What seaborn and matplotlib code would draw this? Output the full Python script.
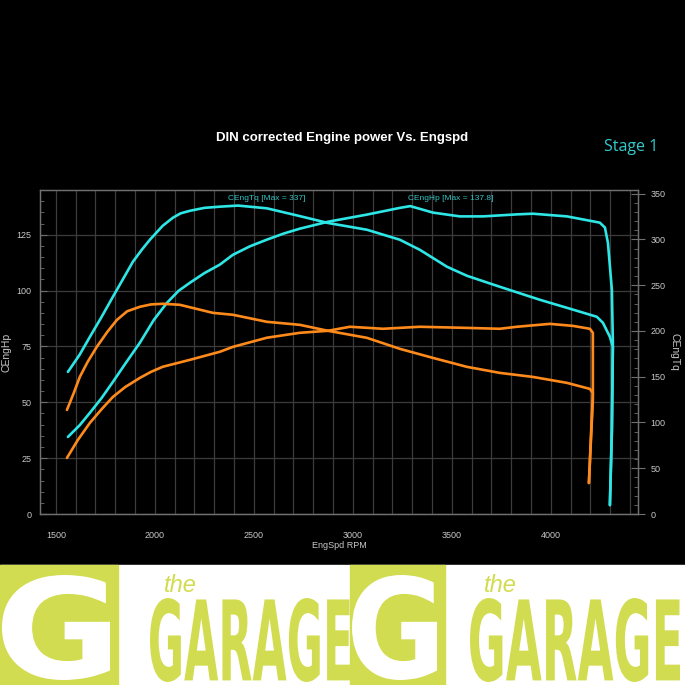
import matplotlib
matplotlib.use('Agg')
import matplotlib.pyplot as plt
import seaborn as sns
from matplotlib.patches import Rectangle, PathPatch
from matplotlib.textpath import TextPath
from matplotlib.font_manager import FontProperties
from matplotlib.ticker import MultipleLocator
from matplotlib.transforms import Affine2D

# Stage 1 power (hp) vs rpm - the run ends with a steep drop
s1_hp_rpm = [1561, 1620, 1672, 1730, 1788, 1850, 1924, 1995, 2061, 2120, 2177, 2250,
             2328, 2394, 2480, 2566, 2650, 2732, 2874, 3071, 3237, 3290, 3404, 3540,
             3657, 3828, 3909, 4081, 4247, 4273, 4288, 4308, 4313, 4308, 4298]
s1_hp = [34.5, 39.7, 45.3, 51.8, 59.1, 67.2, 76.6, 86.9, 94.5, 99.9, 103.5, 107.8,
         111.6, 116.0, 119.8, 122.8, 125.5, 127.7, 130.8, 134.0, 137.0, 137.8, 134.9, 133.2,
         133.2, 134.1, 134.4, 133.2, 130.4, 128.2, 121.4, 100.4, 76.6, 37.6, 4.0]

# Stage 1 torque (Nm)
s1_tq_rpm = [1561, 1620, 1672, 1730, 1788, 1840, 1889, 1935, 1975, 2040, 2091, 2130,
             2177, 2250, 2328, 2420, 2566, 2732, 2874, 3071, 3237, 3338, 3475, 3576,
             3742, 3944, 4081, 4232, 4263, 4298, 4313, 4308, 4298]
s1_tq = [155.3, 174.0, 193.6, 215.0, 237.3, 257.0, 275.6, 289.0, 299.7, 315.0, 323.7, 328.5,
         331.3, 334.5, 335.8, 337.0, 334.0, 325.5, 318.0, 310.6, 299.7, 288.7, 270.2, 260.3,
         248.3, 234.1, 225.3, 215.5, 208.9, 193.6, 182.7, 90.0, 9.8]

# Stock power (hp)
st_hp_rpm = [1556, 1610, 1672, 1730, 1788, 1850, 1924, 1980, 2040, 2177, 2328, 2394,
             2566, 2732, 2874, 2985, 3152, 3338, 3576, 3742, 3828, 3995, 4111, 4197,
             4212, 4212, 4192]
st_hp = [25.1, 33.0, 40.8, 46.8, 52.4, 56.8, 60.9, 63.6, 65.9, 69.0, 72.6, 74.8,
         78.9, 81.1, 82.0, 83.8, 82.9, 83.8, 83.3, 82.9, 83.8, 85.1, 84.2, 82.9,
         81.1, 51.1, 13.9]

# Stock torque (Nm)
st_tq_rpm = [1556, 1590, 1621, 1660, 1707, 1760, 1808, 1860, 1924, 1980, 2040, 2126,
             2293, 2394, 2566, 2732, 2874, 3071, 3237, 3404, 3576, 3742, 3909, 4081,
             4197, 4212, 4192]
st_tq = [113.7, 132.0, 149.8, 166.0, 182.7, 199.0, 212.0, 221.5, 226.4, 229.0, 229.7, 228.6,
         219.8, 217.7, 210.0, 206.7, 200.2, 192.5, 180.5, 170.6, 160.8, 154.2, 149.8, 143.3,
         136.7, 132.3, 33.9]

x_ticks = [1500, 2000, 2500, 3000, 3500, 4000]

CYAN = '#2ee6e6'
ORANGE = '#ff8a1c'
LIME = '#d2dc50'
GRID = '#3c3c3c'
TXT = '#c8c8c8'

sns.set_style('dark', {'axes.facecolor': 'black', 'figure.facecolor': 'black'})
plt.rcParams['font.family'] = ['Liberation Sans', 'DejaVu Sans']

fig = plt.figure(figsize=(6.85, 6.85), dpi=100)
fig.patch.set_facecolor('black')
ax = fig.add_axes([0.0584, 0.2496, 0.873, 0.473])
ax2 = ax.twinx()

sns.lineplot(x=s1_hp_rpm, y=s1_hp, ax=ax, sort=False, estimator=None, color=CYAN, lw=1.9)
sns.lineplot(x=st_hp_rpm, y=st_hp, ax=ax, sort=False, estimator=None, color=ORANGE, lw=1.9)
sns.lineplot(x=s1_tq_rpm, y=s1_tq, ax=ax2, sort=False, estimator=None, color=CYAN, lw=1.9)
sns.lineplot(x=st_tq_rpm, y=st_tq, ax=ax2, sort=False, estimator=None, color=ORANGE, lw=1.9)

ax.set_xlim(1420, 4440)
ax.set_ylim(0, 145)
ax2.set_ylim(0, 354)

ax.set_xticks(x_ticks)
ax.xaxis.set_minor_locator(MultipleLocator(100))
ax.yaxis.set_major_locator(MultipleLocator(25))
ax.yaxis.set_minor_locator(MultipleLocator(5))
ax2.yaxis.set_major_locator(MultipleLocator(50))
ax2.yaxis.set_minor_locator(MultipleLocator(10))

ax.grid(True, which='both', axis='x', color=GRID, lw=0.9)
ax.grid(True, which='major', axis='y', color=GRID, lw=0.9)
ax2.grid(False)
ax.set_axisbelow(True)

ax.tick_params(axis='x', which='both', length=0, labelsize=6.5, labelcolor=TXT, pad=12)
ax.tick_params(axis='y', which='major', direction='in', length=5, color='#707070',
               labelsize=6.5, labelcolor=TXT, pad=6)
ax.tick_params(axis='y', which='minor', direction='in', length=3, color='#707070')
ax2.tick_params(axis='y', which='major', direction='inout', length=10, color='#707070',
                labelsize=6.5, labelcolor=TXT, pad=4)
ax2.tick_params(axis='y', which='minor', direction='in', length=3, color='#707070')

for a in (ax, ax2):
    for s in a.spines.values():
        s.set_color('#707070')
        s.set_linewidth(0.9)

ax.set_xlabel('EngSpd RPM', fontsize=6.5, color=TXT, labelpad=1)
ax.set_ylabel('CEngHp', fontsize=7.5, color=TXT, labelpad=4)
ax2.set_ylabel('CEngTq', fontsize=7.5, color=TXT, rotation=270, labelpad=10)

ax.text(2566, 139.5, 'CEngTq [Max = 337]', ha='center', va='bottom', fontsize=6,
        color='#35c4c4')
ax.text(3495, 139.5, 'CEngHp [Max = 137.8]', ha='center', va='bottom', fontsize=6,
        color='#35c4c4')

fig.text(0.5, 0.7985, 'DIN corrected Engine power Vs. Engspd', ha='center', va='center',
         fontsize=9.5, fontweight='bold', color='white', fontstretch='condensed',
         family=['Liberation Sans Narrow', 'Liberation Sans', 'DejaVu Sans'])
fig.text(0.921, 0.785, 'Stage 1', ha='center', va='center', fontsize=11.5,
         color='#33cccc', family=['Open Sans', 'DejaVu Sans'])

# logo band at the bottom
H = 685.0


def fbox(x0, y0, x1, y1):
    return (x0 / H, 1 - y1 / H, (x1 - x0) / H, (y1 - y0) / H)


def fitted_text(s, box, color, weight='bold'):
    tp = TextPath((0, 0), s, size=1, prop=FontProperties(family='DejaVu Sans', weight=weight))
    ext = tp.get_extents()
    x, y, w, h = box
    tr = Affine2D().translate(-ext.x0, -ext.y0).scale(w / ext.width, h / ext.height).translate(x, y)
    fig.patches.append(PathPatch(tr.transform_path(tp), facecolor=color, edgecolor='none',
                                 transform=fig.transFigure))


fig.patches.append(Rectangle(fbox(0, 565, 685, 685)[:2], 1, 120 / H, color='white',
                             transform=fig.transFigure))
for x0, x1 in [(0, 118), (350, 445)]:
    b = fbox(x0, 565, x1, 685)
    fig.patches.append(Rectangle(b[:2], b[2], b[3], color=LIME, transform=fig.transFigure))
    fitted_text('G', fbox(x0 + 2, 575, x1 - 8, 680), 'white')
for x0, x1 in [(150, 350), (470, 680)]:
    fitted_text('GARAGE', fbox(x0, 598, x1, 682), LIME)
    fig.text((x0 + 30) / H, 1 - 585 / H, 'the', fontsize=17, color=LIME, style='italic',
             ha='center', va='center')

fig.savefig('out.png', dpi=100, facecolor='black')
